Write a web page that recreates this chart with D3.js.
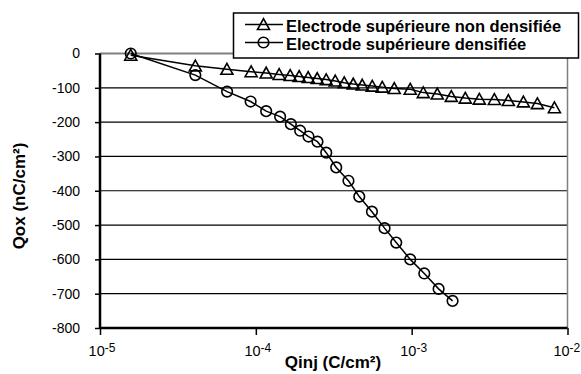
<!DOCTYPE html>
<html>
<head>
<meta charset="utf-8">
<script src="https://cdn.jsdelivr.net/npm/d3@7"></script>
<style>
  html, body { margin: 0; padding: 0; background: #fff; }
  svg { display: block; }
</style>
</head>
<body>
<svg id="chart" width="581" height="374"></svg>
<script>
// ---- data ----
const seriesNames = ["Electrode supérieure non densifiée", "Electrode supérieure densifiée"];

const qinjNonDens = [1.575e-5, 4.09e-5, 6.52e-5, 9.33e-5, 1.165e-4, 1.411e-4, 1.661e-4, 1.897e-4, 2.167e-4,
  2.476e-4, 2.828e-4, 3.231e-4, 3.692e-4, 4.217e-4, 4.817e-4, 5.584e-4, 6.474e-4, 7.731e-4, 9.79e-4,
  1.187e-3, 1.46e-3, 1.796e-3, 2.209e-3, 2.718e-3, 3.393e-3, 4.173e-3, 5.21e-3, 6.409e-3, 8.24e-3];
const qoxNonDens = [-5, -36, -46, -53, -57, -61, -64, -67, -70,
  -73, -76, -80, -85, -89, -92, -95, -98, -102, -104,
  -114, -118, -125, -130, -133, -134, -137, -141, -146, -158];

const qinjDens = [1.575e-5, 4.09e-5, 6.54e-5, 9.26e-5, 1.165e-4, 1.432e-4, 1.678e-4, 1.925e-4, 2.177e-4,
  2.486e-4, 2.83e-4, 3.28e-4, 3.93e-4, 4.61e-4, 5.56e-4, 6.70e-4, 7.96e-4, 9.79e-4, 1.205e-3,
  1.489e-3, 1.83e-3];
const qoxDens = [0, -63, -111, -140, -168, -184, -206, -225, -242,
  -257, -289, -332, -371, -417, -461, -509, -551, -600, -641,
  -686, -721];

const xTickValues = [1e-5, 1e-4, 1e-3, 1e-2];
const xTickExponents = ["-5", "-4", "-3", "-2"];
const yTickValues = [-800, -700, -600, -500, -400, -300, -200, -100, 0];

const xTitle = "Qinj (C/cm²)";
const yTitle = "Qox (nC/cm²)";

// ---- layout ----
const FONT = "'Liberation Sans', Arial, sans-serif";
const svg = d3.select("#chart");
const W = 581;
const L = 100, R = 567.5, T = 53.5, B = 328;

const x = d3.scaleLog().domain([1e-5, 1e-2]).range([L, R]);
const y = d3.scaleLinear().domain([-800, 0]).range([B, T]);

// gridlines
svg.append("g").selectAll("line")
  .data(yTickValues.filter(v => v > -800 && v < 0))
  .join("line")
  .attr("x1", L).attr("x2", R)
  .attr("y1", d => y(d)).attr("y2", d => y(d))
  .attr("stroke", "#000").attr("stroke-width", 1.2);

// plot border (top & right gray)
svg.append("line").attr("x1", L).attr("x2", R).attr("y1", y(0)).attr("y2", y(0))
  .attr("stroke", "#808080").attr("stroke-width", 2);
svg.append("line").attr("x1", R).attr("x2", R).attr("y1", y(0)).attr("y2", B)
  .attr("stroke", "#808080").attr("stroke-width", 1.5);

// y axis
const yAxis = d3.axisLeft(y).tickValues(yTickValues).tickSize(5).tickPadding(15)
  .tickFormat(d3.format("d"));
const gy = svg.append("g").attr("transform", `translate(${L},0)`).call(yAxis);
gy.select(".domain").attr("stroke", "#000").attr("stroke-width", 2.5).attr("d", `M0,${y(0)}V${B}`);
gy.selectAll(".tick line").attr("stroke", "#000").attr("stroke-width", 1.5);
gy.selectAll(".tick text").attr("font-family", FONT).attr("font-size", 14).attr("fill", "#000")
  .text(d => d === 0 ? "0" : String(d));

// x axis
const xAxis = d3.axisBottom(x).tickValues(xTickValues).tickSize(7).tickFormat(() => "");
const gx = svg.append("g").attr("transform", `translate(0,${B})`).call(xAxis);
gx.select(".domain").attr("stroke", "#000").attr("stroke-width", 2.5).attr("d", `M${L},0H${R}`);
gx.selectAll(".tick line").attr("stroke", "#000").attr("stroke-width", 1.5);
gx.selectAll(".tick").each(function (d, i) {
  const t = d3.select(this).append("text")
    .attr("x", 1.5).attr("y", 28)
    .attr("text-anchor", "middle")
    .attr("font-family", FONT).attr("fill", "#000");
  t.append("tspan").attr("font-size", 14.5).text("10");
  t.append("tspan").attr("font-size", 12).attr("dy", -4.5).text(xTickExponents[i]);
  // keep inside the picture
  const bb = this.getBBox ? t.node().getBBox() : null;
  if (bb) {
    const right = x(d) + bb.x + bb.width;
    if (right > W - 1) t.attr("x", 1.5 - (right - (W - 1)));
  }
});

// axis titles
svg.append("text").attr("x", 333).attr("y", 368).attr("text-anchor", "middle")
  .attr("font-family", FONT).attr("font-weight", "bold").attr("font-size", 17)
  .text(xTitle);
svg.append("text").attr("transform", "translate(25,196) rotate(-90)").attr("text-anchor", "middle")
  .attr("font-family", FONT).attr("font-weight", "bold").attr("font-size", 17)
  .text(yTitle);

// series
const triPath = "M0,-5.8L6,5L-6,5Z";
const line = d3.line().x(d => x(d[0])).y(d => y(d[1]));

const dataNon = qinjNonDens.map((q, i) => [q, qoxNonDens[i]]);
const dataDen = qinjDens.map((q, i) => [q, qoxDens[i]]);

svg.append("path").datum(dataDen).attr("d", line).attr("fill", "none")
  .attr("stroke", "#000").attr("stroke-width", 1.5);
svg.append("path").datum(dataNon).attr("d", line).attr("fill", "none")
  .attr("stroke", "#000").attr("stroke-width", 1.5);

svg.append("g").selectAll("circle").data(dataDen).join("circle")
  .attr("cx", d => x(d[0])).attr("cy", d => y(d[1])).attr("r", 5.3)
  .attr("fill", "none").attr("stroke", "#000").attr("stroke-width", 1.6);
svg.append("g").selectAll("path").data(dataNon).join("path")
  .attr("transform", d => `translate(${x(d[0])},${y(d[1])})`)
  .attr("d", triPath)
  .attr("fill", "none").attr("stroke", "#000").attr("stroke-width", 1.6);

// legend
const lg = svg.append("g");
lg.append("rect").attr("x", 233.5).attr("y", 13).attr("width", 345).attr("height", 45)
  .attr("fill", "#fff").attr("stroke", "#000").attr("stroke-width", 1.5);
const rows = [24.5, 42.5];
seriesNames.forEach((name, i) => {
  const yy = rows[i];
  lg.append("line").attr("x1", 245).attr("x2", 283).attr("y1", yy).attr("y2", yy)
    .attr("stroke", "#000").attr("stroke-width", 1.5);
  if (i === 0) {
    lg.append("path").attr("transform", `translate(263.5,${yy})`).attr("d", triPath)
      .attr("fill", "none").attr("stroke", "#000").attr("stroke-width", 1.6);
  } else {
    lg.append("circle").attr("cx", 263.5).attr("cy", yy).attr("r", 5.3)
      .attr("fill", "none").attr("stroke", "#000").attr("stroke-width", 1.6);
  }
  lg.append("text").attr("x", 286).attr("y", yy + 7.5)
    .attr("font-family", FONT).attr("font-weight", "bold").attr("font-size", 16.5)
    .text(name);
});
</script>
</body>
</html>
